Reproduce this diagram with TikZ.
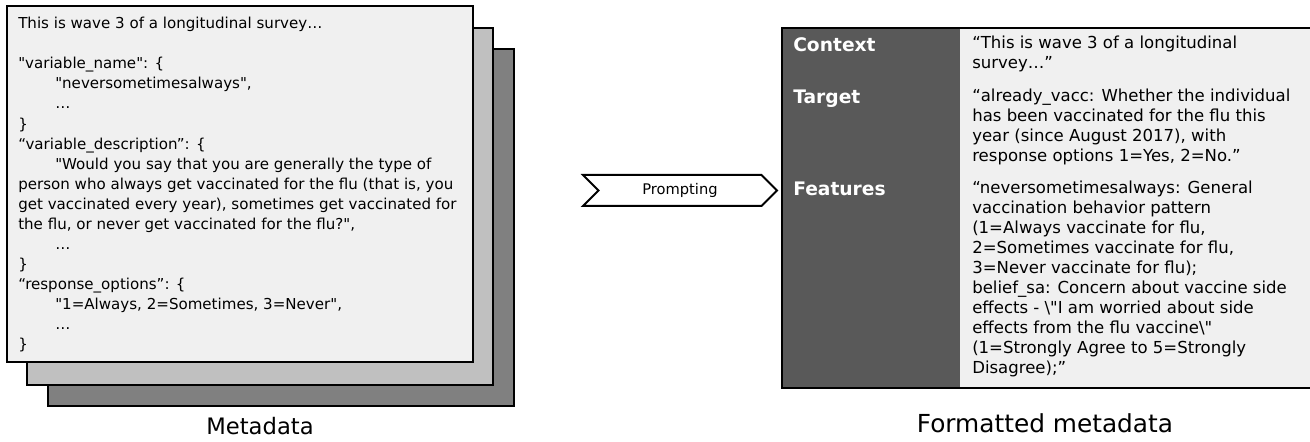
\documentclass[tikz,border=0pt]{standalone}
\usepackage{fontspec}
\setmainfont{DejaVu Sans}[Ligatures=TeXOff]
\usetikzlibrary{positioning,shapes.symbols}

\definecolor{sheetfront}{HTML}{F0F0F0}
\definecolor{sheetmid}{HTML}{C0C0C0}
\definecolor{sheetback}{HTML}{808080}
\definecolor{keydark}{HTML}{595959}

\newcommand{\ind}{\hspace*{27.75pt}}

\tikzset{
  sheet/.style={draw=black, line width=1.5pt, minimum width=349.5pt, minimum height=267pt, inner sep=0pt},
  bodytext/.style={align=left, inner sep=0pt, font=\fontsize{11.3}{15.05}\selectfont},
  celltext/.style={align=left, inner sep=0pt, anchor=north west, font=\fontsize{12.4}{15}\selectfont},
  keytext/.style={inner sep=0pt, anchor=north west, text=white, font=\fontsize{14}{15}\selectfont\bfseries},
  caption/.style={inner sep=0pt, font=\fontsize{17}{20}\selectfont}
}

\begin{document}
\begin{tikzpicture}[x=0.75pt, y=-0.75pt]
  \useasboundingbox (0,0) rectangle (1310,442);

  % stack of metadata sheets
  \node[sheet, fill=sheetback] (back) at (280.5,227.5) {};
  \node[sheet, fill=sheetmid] (mid) at (260,206.5) {};
  \node[sheet, fill=sheetfront] (front) at (239.5,184) {};

  \node[bodytext, anchor=north west] (metatext) at (18,17) {%
    This is wave 3 of a longitudinal survey…\\[15.05pt]
    "variable\_name": \{\\
    \ind"neversometimesalways",\\
    \ind…\\
    \}\\
    “variable\_description”: \{\\
    \ind"Would you say that you are generally the type of\\
    person who always get vaccinated for the flu (that is, you\\
    get vaccinated every year), sometimes get vaccinated for\\
    the flu, or never get vaccinated for the flu?",\\
    \ind…\\
    \}\\
    “response\_options”: \{\\
    \ind"1=Always, 2=Sometimes, 3=Never",\\
    \ind…\\
    \}};

  \node[caption] (metalabel) at (260,426) {Metadata};

  % prompting step
  \node[signal, signal from=west, signal to=east, draw=black, line width=1.5pt, fill=white,
        minimum width=145.5pt, minimum height=23.25pt, inner sep=0pt,
        font=\fontsize{11}{13}\selectfont] (prompt) at (680,190.5) {Prompting};

  % formatted metadata table
  \draw[line width=1.5pt, fill=sheetfront] (782,28) rectangle (1330,388);
  \node[fill=keydark, inner sep=0pt, minimum width=133.5pt, minimum height=270pt, anchor=north west] (keycol) at (782,28) {};
  \draw[line width=1.5pt] (782,28) -- (1330,28) (782,388) -- (1330,388) (782,28) -- (782,388);

  \node[keytext] (ctxkey) at (793,37) {Context};
  \node[keytext] (tgtkey) at (793,90) {Target};
  \node[keytext] (featkey) at (793,182) {Features};

  \node[celltext] (ctxval) at (972,36) {“This is wave 3 of a longitudinal\\survey…”};
  \node[celltext] (tgtval) at (972,89) {“already\_vacc: Whether the individual\\
    has been vaccinated for the flu this\\
    year (since August 2017), with\\
    response options 1=Yes, 2=No.”};
  \node[celltext] (featval) at (972,181) {“neversometimesalways: General\\
    vaccination behavior pattern\\
    (1=Always vaccinate for flu,\\
    2=Sometimes vaccinate for flu,\\
    3=Never vaccinate for flu);\\
    belief\_sa: Concern about vaccine side\\
    effects - \textbackslash"I am worried about side\\
    effects from the flu vaccine\textbackslash"\\
    (1=Strongly Agree to 5=Strongly\\
    Disagree);”};

  \node[caption, font=\fontsize{18.6}{22}\selectfont] (fmtlabel) at (1045,423) {Formatted metadata};
\end{tikzpicture}
\end{document}
